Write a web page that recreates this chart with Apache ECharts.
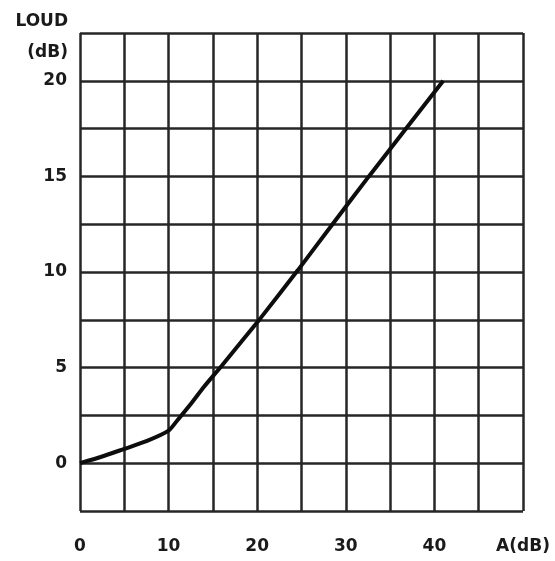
<!DOCTYPE html>
<html>
<head>
<meta charset="utf-8">
<script src="https://cdn.jsdelivr.net/npm/echarts@6/dist/echarts.min.js"></script>
<style>
  html,body{margin:0;padding:0;background:#fff}
  #main{width:555px;height:561px}
</style>
</head>
<body>
<div id="main"></div>
<script>
// data
var xTicks = [0, 10, 20, 30, 40];
var yTicks = [0, 5, 10, 15, 20];
var aDb    = [0, 2.5, 5, 7.5, 10, 11, 12.5, 14, 16, 20.4, 24.6, 28.5, 32.6, 41];
var loudDb = [0, 0.35, 0.75, 1.15, 1.7, 2.25, 3.1, 4, 5.1, 7.6, 10.1, 12.5, 15, 20];

var font = 'DejaVu Sans';
var points = aDb.map(function(a, i){ return [a, loudDb[i]]; });

var chart = echarts.init(document.getElementById('main'));
chart.setOption({
  animation: false,
  backgroundColor: '#fff',
  grid: {left: 80, right: 32, top: 33, bottom: 50},
  graphic: [{
    type: 'text',
    right: 487,
    top: 6,
    style: {
      text: 'LOUD\n(dB)',
      font: 'bold 17px "' + font + '"',
      fill: '#1a1a1a',
      textAlign: 'right',
      lineHeight: 31
    }
  }],
  xAxis: {
    type: 'value',
    min: 0, max: 50, interval: 5,
    axisLine: {show: false},
    axisTick: {show: false},
    splitLine: {lineStyle: {color: '#262626', width: 2.5}},
    axisLabel: {
      margin: 27,
      color: '#1a1a1a',
      fontFamily: font,
      fontWeight: 'bold',
      fontSize: 17,
      formatter: function(v){
        if (v === 50) return 'A(dB)';
        return xTicks.indexOf(v) >= 0 ? String(v) : '';
      }
    }
  },
  yAxis: {
    type: 'value',
    min: -2.5, max: 22.5, interval: 2.5,
    axisLine: {show: false},
    axisTick: {show: false},
    splitLine: {lineStyle: {color: '#262626', width: 2.5}},
    axisLabel: {
      margin: 13,
      color: '#1a1a1a',
      fontFamily: font,
      fontWeight: 'bold',
      fontSize: 17,
      formatter: function(v){
        return yTicks.indexOf(v) >= 0 ? String(v) : '';
      }
    }
  },
  series: [{
    type: 'line',
    data: points,
    smooth: 0.2,
    symbol: 'none',
    lineStyle: {color: '#0d0d0d', width: 4}
  }]
});
</script>
</body>
</html>
